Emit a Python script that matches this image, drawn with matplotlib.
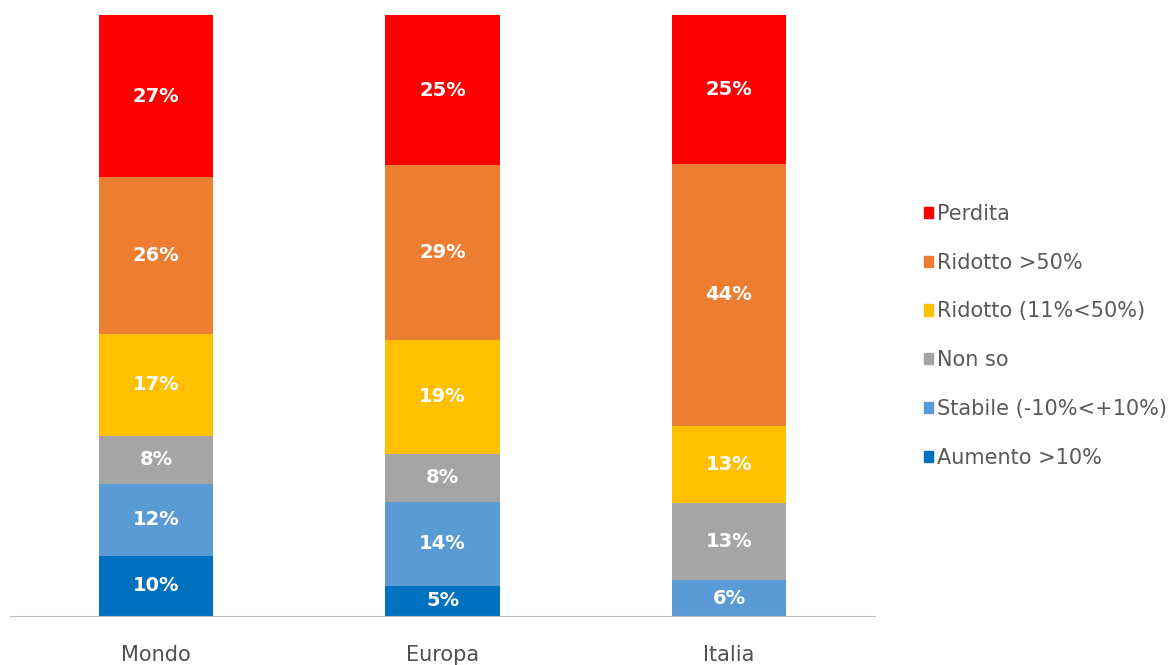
import numpy as np
import matplotlib.pyplot as plt
from matplotlib.patches import Patch

plt.rcParams['font.family'] = ['DejaVu Sans']

# Dati: quote percentuali per area geografica (dal basso verso l'alto)
aree = ['Mondo', 'Europa', 'Italia']
categorie = ['Aumento >10%', 'Stabile (-10%<+10%)', 'Non so',
             'Ridotto (11%<50%)', 'Ridotto >50%', 'Perdita']
aumento = [10, 5, 0]
stabile = [12, 14, 6]
non_so = [8, 8, 13]
ridotto_medio = [17, 19, 13]
ridotto_forte = [26, 29, 44]
perdita = [27, 25, 25]

colori = ['#0070C0', '#5B9BD5', '#A5A5A5', '#FFC000', '#ED7D31', '#FF0000']

serie = np.array([aumento, stabile, non_so, ridotto_medio, ridotto_forte, perdita], dtype=float)
# barre al 100%: ogni colonna normalizzata sul proprio totale
quote = serie / serie.sum(axis=0) * 100

fig = plt.figure(figsize=(11.74, 6.65), dpi=100)
ax = fig.add_axes([10 / 1174, 49 / 665, 865 / 1174, 601 / 665])

x = np.arange(len(aree))
base = np.zeros(len(aree))
for i, (nome, col) in enumerate(zip(categorie, colori)):
    ax.bar(x, quote[i], width=0.4, bottom=base, color=col, label=nome)
    for j in range(len(aree)):
        if serie[i, j] > 0:
            ax.text(x[j], base[j] + quote[i, j] / 2, f'{int(serie[i, j])}%',
                    ha='center', va='center', color='white',
                    fontsize=14, fontweight='bold')
    base += quote[i]

ax.set_xlim(-0.51, 2.51)
ax.set_ylim(0, 100)
ax.set_yticks([])
ax.set_xticks(x)
ax.set_xticklabels(aree, fontsize=15, color='#505050')
ax.tick_params(axis='x', length=0, pad=21)
for s in ['top', 'right', 'left']:
    ax.spines[s].set_visible(False)
ax.spines['bottom'].set_color('#BFBFBF')
ax.spines['bottom'].set_linewidth(0.8)

maniglie = [Patch(color=c, label=n) for c, n in zip(colori, categorie)][::-1]
fig.legend(handles=maniglie, loc='center left', bbox_to_anchor=(0.787, 0.495),
           frameon=False, fontsize=15, handlelength=0.45, handleheight=0.45,
           handletextpad=0.2, labelspacing=1.38, borderpad=0, borderaxespad=0,
           labelcolor='#595959')

fig.savefig('out.png', dpi=100, facecolor='white')
